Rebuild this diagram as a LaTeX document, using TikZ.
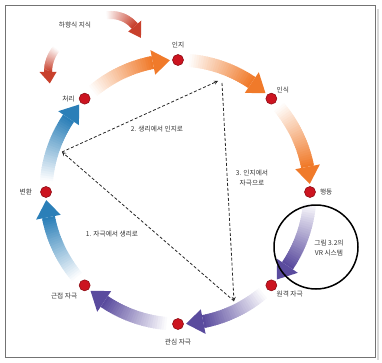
\documentclass[tikz,border=0pt]{standalone}
\usepackage{fontspec}
\newfontfamily\kor{Noto Sans CJK KR}

\definecolor{arrorange}{HTML}{F07A2A}
\definecolor{arrpurple}{HTML}{5A4B9E}
\definecolor{arrblue}{HTML}{2B7FB8}
\definecolor{arrred}{HTML}{C8402C}
\definecolor{dotred}{HTML}{CC1420}

% arc arrow fading from white: cx, cy, r, start, head base, tip, colour, body width, head width
\newcommand{\fadearrow}[9]{%
  \pgfmathsetmacro\fromang{#4}%
  \pgfmathsetmacro\baseang{#5}%
  \pgfmathsetmacro\tipang{#6}%
  \foreach \k in {0,...,29}{%
    \pgfmathsetmacro\segA{\fromang+(\baseang-\fromang)*\k/30}%
    \pgfmathsetmacro\segB{\fromang+(\baseang-\fromang)*min(\k+1.5,30)/30}%
    \pgfmathtruncatemacro\tintval{100*\k/29}%
    \draw[line width=#8, #7!\tintval!white]
    ([shift={(\segA:#3)}]#1,#2) arc[start angle=\segA, end angle=\segB, radius=#3];
  }%
  \fill[#7] ([shift={(\baseang:#3+#9/2)}]#1,#2)
  -- ([shift={(\tipang:#3)}]#1,#2)
  -- ([shift={(\baseang:#3-#9/2)}]#1,#2) -- cycle;
}

\tikzset{
  dot/.style={circle, fill=dotred, draw=dotred!70!black, line width=0.6pt,
    minimum size=11pt, inner sep=0pt},
  lbl/.style={font=\kor\fontsize{6.7}{10}\selectfont, text=black!80, inner sep=1pt},
  dashline/.style={dash pattern=on 3pt off 2pt, line width=0.8pt, black!85},
}

\begin{document}
\begin{tikzpicture}[x=1pt, y=1pt, >=stealth]
    \useasboundingbox (0,0) rectangle (382,362);

    % frame with a light shadow on the right
    \draw[black!15, line width=2pt] (378,2.5) -- (378,353);
    \draw[black!55, line width=1.4pt] (5.7,4.3) rectangle (375.7,356.7);

    % top-down knowledge
    \fadearrow{111}{316}{31}{100}{40}{15}{arrred}{8pt}{17}
    \fadearrow{85}{290}{37}{140}{180}{198}{arrred}{8pt}{17}
    \node[lbl] (topdown) at (75,337) {하향식 지식};

    % the cycle
    \foreach \s/\col in {135/arrorange, 90/arrorange, 45/arrorange,
      0/arrpurple, -45/arrpurple, -90/arrpurple,
      225/arrblue, 180/arrblue}{
      \fadearrow{178}{170}{132}{\s-4}{\s-34}{\s-41.5}{\col}{13pt}{25}
    }

    \coordinate (sens) at (234,61);
    \coordinate (phys) at (62,210);
    \coordinate (cogn) at (218,281);
    \coordinate (cognb) at (222,279);

    \draw[dashline,->] (sens) -- (phys);
    \draw[dashline,->] (phys) -- (cogn);
    \draw[dashline,->] (cognb) -- (sens);

    \node[lbl] (stepone) at (112,128) {1. 자극에서 생리로};
    \node[lbl] (steptwo) at (157,233) {2. 생리에서 인지로};
    \node[lbl, align=center] (stepthree) at (252,184) {3. 인지에서\\자극으로};

    \begin{scope}[shift={(178,170)}]
        \node[dot, label={[lbl, label distance=5pt]above:인지}] (inji) at (90:132) {};
        \node[dot, label={[lbl, label distance=0pt]above right:인식}] (insik) at (45:132) {};
        \node[dot, label={[lbl, label distance=3pt]right:행동}] (haengdong) at (0:132) {};
        \node[dot, label={[lbl, label distance=0pt]below right:원격 자극}] (wongyeok) at (-45:132) {};
        \node[dot, label={[lbl, label distance=8pt]below:관심 자극}] (gwansim) at (-90:132) {};
        \node[dot, label={[lbl, label distance=3pt]below left:근접 자극}] (geunjeop) at (-135:132) {};
        \node[dot, label={[lbl, label distance=7pt]left:변환}] (byeonhwan) at (180:132) {};
        \node[dot, label={[lbl, label distance=3pt]left:처리}] (cheori) at (135:132) {};
    \end{scope}

    % the part covered by the VR system
    \draw[line width=1.5pt] (316,115) circle[radius=42];
    \node[lbl, align=center] (vrsys) at (329,114.5) {그림 3.2의\\VR 시스템};
\end{tikzpicture}
\end{document}
